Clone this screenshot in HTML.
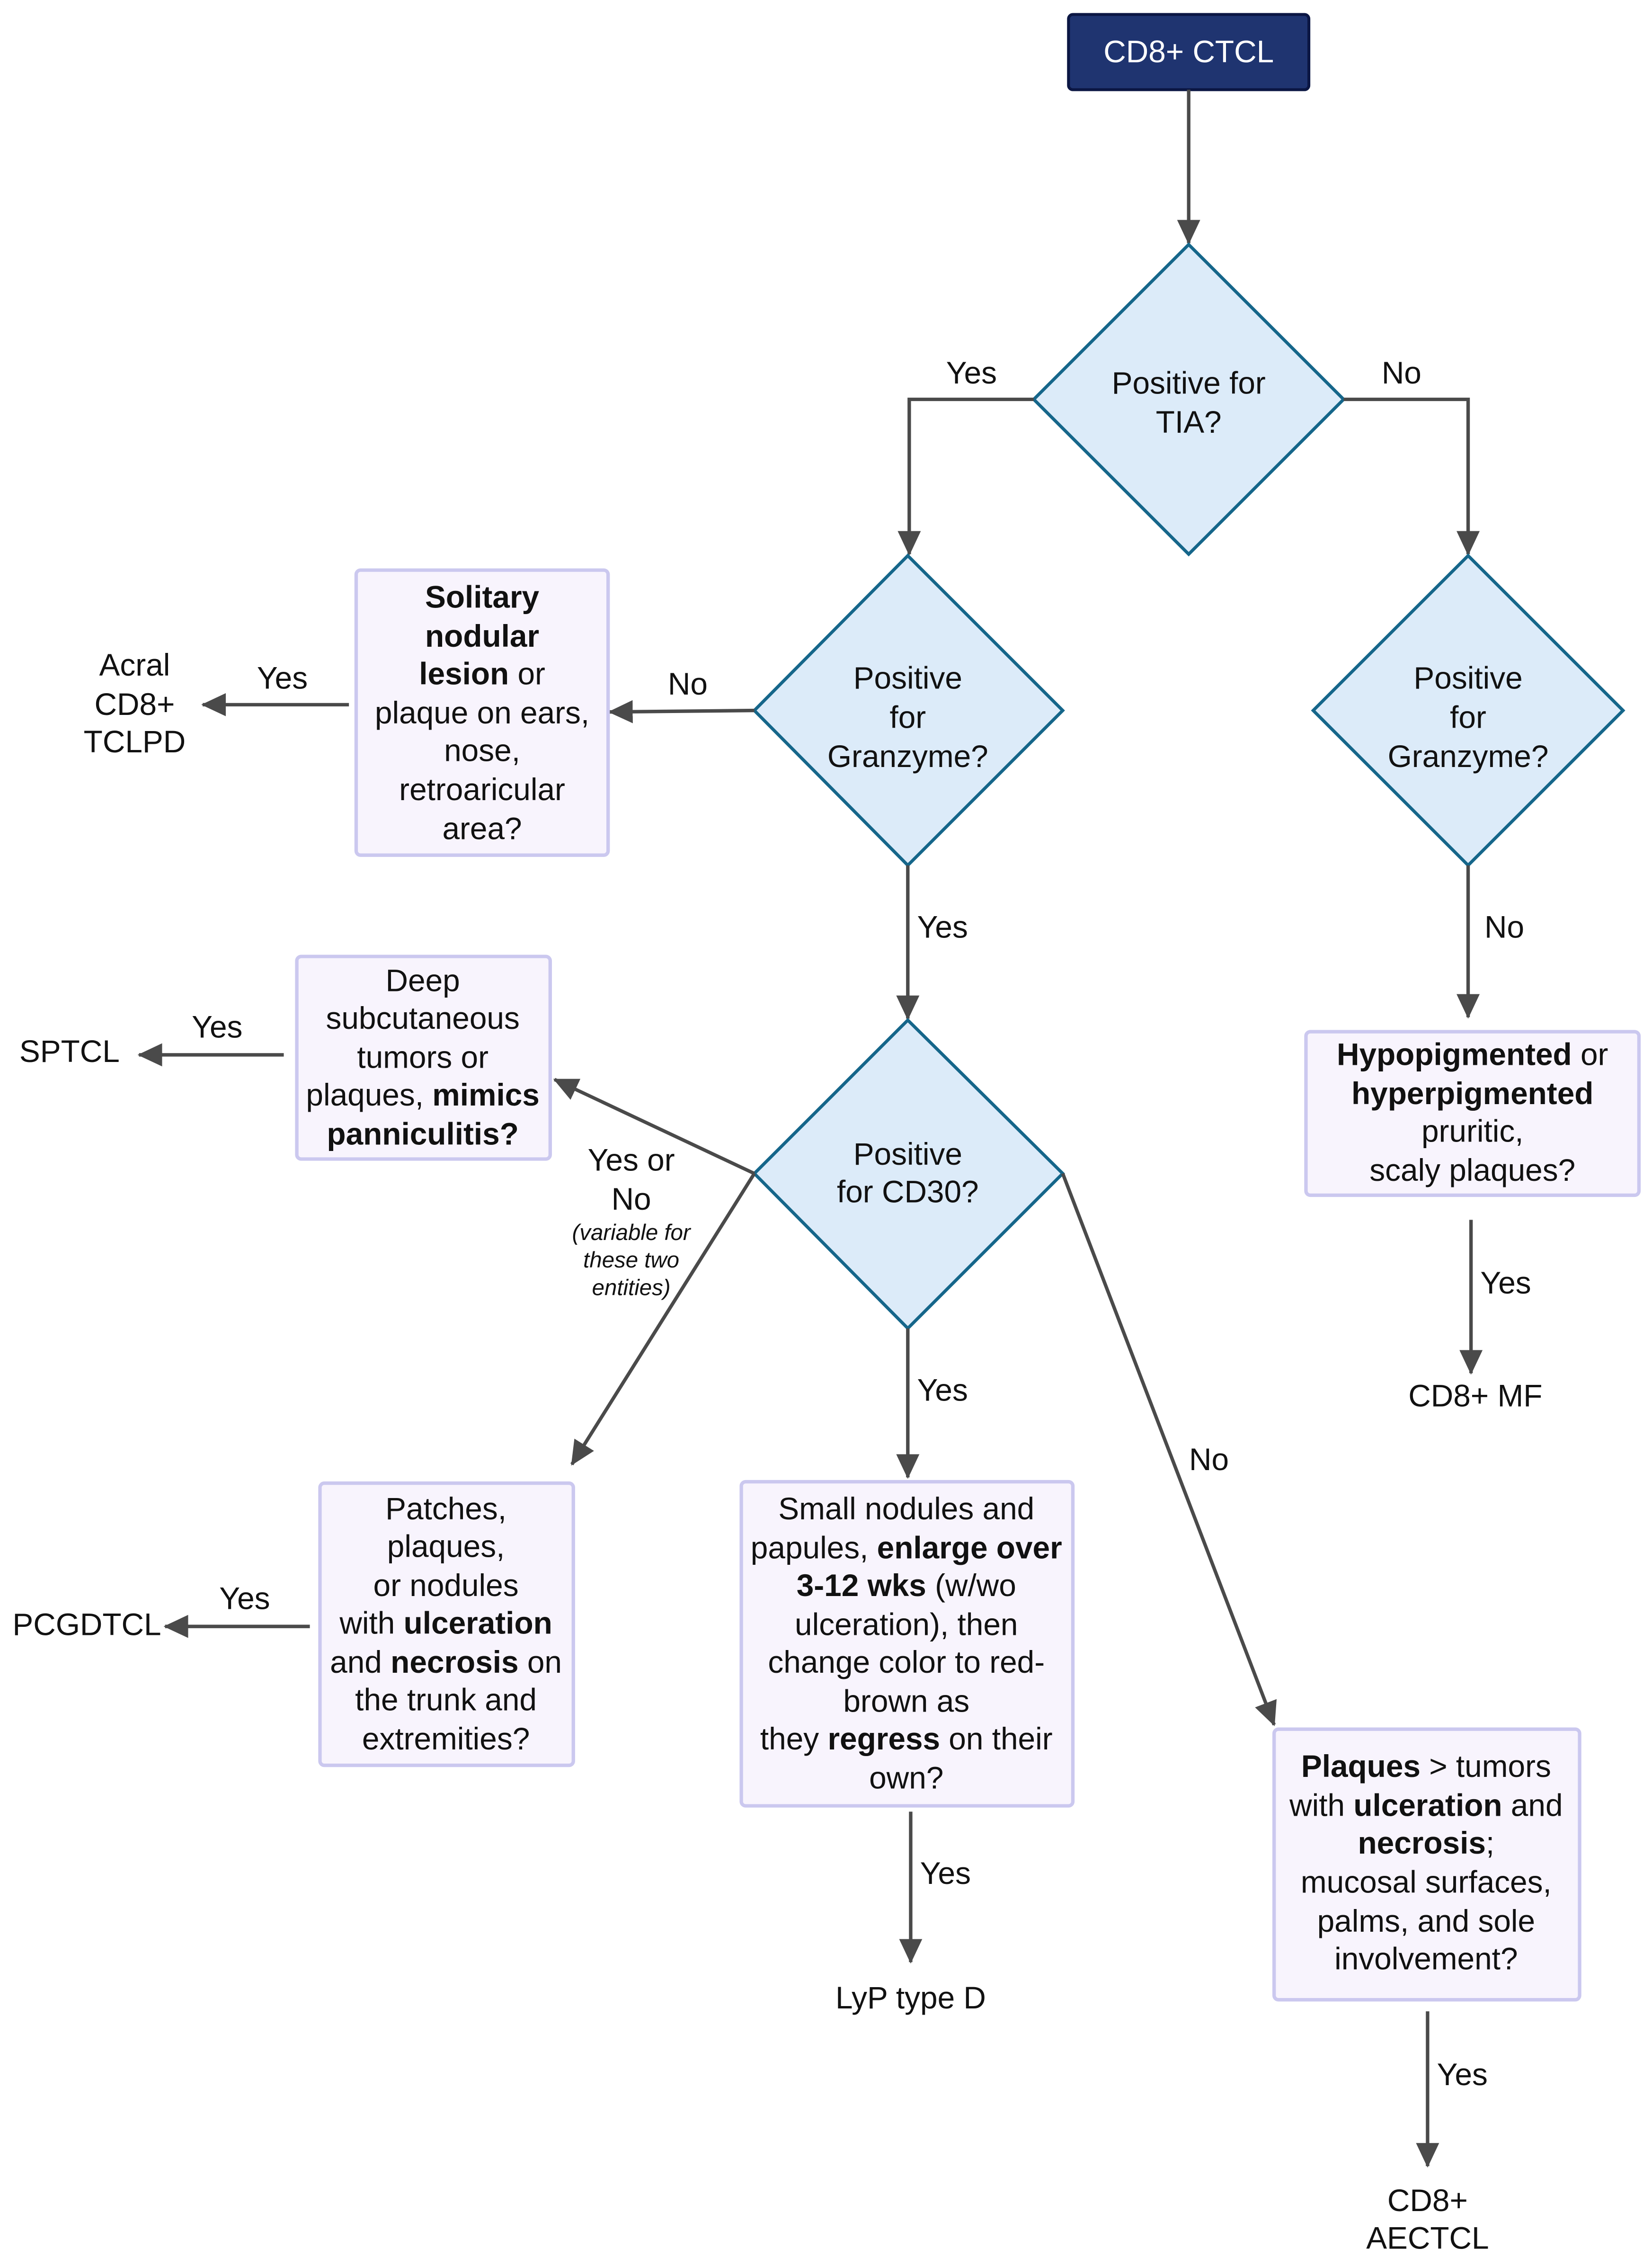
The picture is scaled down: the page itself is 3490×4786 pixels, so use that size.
<!DOCTYPE html>
<html><head><meta charset="utf-8"><style>
html,body{margin:0;padding:0;background:#fff}
svg{display:block}
text{font-family:"Liberation Sans",Arial,sans-serif;font-size:21.5px;fill:#111;text-anchor:middle}
.b{font-weight:bold}
.i{font-style:italic;font-size:15.5px}
.ln{stroke:#4a4a4a;stroke-width:2.4;fill:none}
.dm{fill:#dcebf9;stroke:#15668a;stroke-width:2.2}
.bx{fill:#f8f4fd;stroke:#cbc8ef;stroke-width:2.4}
</style></head><body>
<svg width="3490" height="4786" viewBox="0 0 1141 1566" preserveAspectRatio="none" xmlns="http://www.w3.org/2000/svg">
<defs><marker id="a" markerUnits="userSpaceOnUse" markerWidth="18" markerHeight="18" viewBox="0 0 18 18" refX="16" refY="9" orient="auto"><path d="M0,1 L17,9 L0,17 Z" fill="#4a4a4a"/></marker></defs>

<rect x="738" y="10" width="166" height="52" rx="3" fill="#1f3470" stroke="#0b1643" stroke-width="2"/>
<text x="821" y="43" style="fill:#fff">CD8+ CTCL</text>

<line class="ln" x1="821" y1="62" x2="821" y2="168" marker-end="url(#a)"/>
<polygon class="dm" points="821,169 928,276 821,383 714,276"/>
<text x="821" y="272">Positive for</text><text x="821" y="299">TIA?</text>

<polyline class="ln" points="714,276 628,276 628,383" marker-end="url(#a)"/>
<text x="671" y="265">Yes</text>
<polyline class="ln" points="928,276 1014,276 1014,383" marker-end="url(#a)"/>
<text x="968" y="265">No</text>

<polygon class="dm" points="627,384 734,491 627,598 521,491"/>
<text x="627" y="476">Positive</text><text x="627" y="503">for</text><text x="627" y="530">Granzyme?</text>
<polygon class="dm" points="1014,384 1121,491 1014,598 907,491"/>
<text x="1014" y="476">Positive</text><text x="1014" y="503">for</text><text x="1014" y="530">Granzyme?</text>

<line class="ln" x1="521" y1="491" x2="421" y2="492" marker-end="url(#a)"/>
<text x="475" y="480">No</text>
<rect class="bx" x="246" y="394" width="174" height="197" rx="3"/>
<text x="333" y="420" class="b">Solitary</text>
<text x="333" y="447" class="b">nodular</text>
<text x="333" y="473"><tspan class="b">lesion</tspan> or</text>
<text x="333" y="500">plaque on ears,</text>
<text x="333" y="526">nose,</text>
<text x="333" y="553">retroaricular</text>
<text x="333" y="580">area?</text>
<line class="ln" x1="241" y1="487" x2="140" y2="487" marker-end="url(#a)"/>
<text x="195" y="476">Yes</text>
<text x="93" y="467">Acral</text><text x="93" y="494">CD8+</text><text x="93" y="520">TCLPD</text>

<line class="ln" x1="627" y1="598" x2="627" y2="704" marker-end="url(#a)"/>
<text x="651" y="648">Yes</text>
<polygon class="dm" points="627,705 734,811 627,918 521,811"/>
<text x="627" y="805">Positive</text><text x="627" y="831">for CD30?</text>

<line class="ln" x1="1014" y1="598" x2="1014" y2="703" marker-end="url(#a)"/>
<text x="1039" y="648">No</text>
<rect class="bx" x="902" y="713" width="230" height="113" rx="3"/>
<text x="1017" y="736"><tspan class="b">Hypopigmented</tspan> or</text>
<text x="1017" y="763" class="b">hyperpigmented</text>
<text x="1017" y="789">pruritic,</text>
<text x="1017" y="816">scaly plaques?</text>
<line class="ln" x1="1016" y1="843" x2="1016" y2="949" marker-end="url(#a)"/>
<text x="1040" y="894">Yes</text>
<text x="1019" y="972">CD8+ MF</text>

<line class="ln" x1="521" y1="811" x2="383" y2="746" marker-end="url(#a)"/>
<rect class="bx" x="205" y="661" width="175" height="140" rx="3"/>
<text x="292" y="685">Deep</text>
<text x="292" y="711">subcutaneous</text>
<text x="292" y="738">tumors or</text>
<text x="292" y="764">plaques, <tspan class="b">mimics</tspan></text>
<text x="292" y="791" class="b">panniculitis?</text>
<line class="ln" x1="196" y1="729" x2="96" y2="729" marker-end="url(#a)"/>
<text x="150" y="717">Yes</text>
<text x="48" y="734">SPTCL</text>

<text x="436" y="809">Yes or</text><text x="436" y="836">No</text>
<text x="436" y="857" class="i">(variable for</text>
<text x="436" y="876" class="i">these two</text>
<text x="436" y="895" class="i">entities)</text>

<line class="ln" x1="521" y1="811" x2="395" y2="1012" marker-end="url(#a)"/>
<rect class="bx" x="221" y="1025" width="175" height="195" rx="3"/>
<text x="308" y="1050">Patches,</text>
<text x="308" y="1076">plaques,</text>
<text x="308" y="1103">or nodules</text>
<text x="308" y="1129">with <tspan class="b">ulceration</tspan></text>
<text x="308" y="1156">and <tspan class="b">necrosis</tspan> on</text>
<text x="308" y="1182">the trunk and</text>
<text x="308" y="1209">extremities?</text>
<line class="ln" x1="214" y1="1124" x2="114" y2="1124" marker-end="url(#a)"/>
<text x="169" y="1112">Yes</text>
<text x="60" y="1130">PCGDTCL</text>

<line class="ln" x1="627" y1="918" x2="627" y2="1021" marker-end="url(#a)"/>
<text x="651" y="968">Yes</text>
<rect class="bx" x="512" y="1024" width="229" height="224" rx="3"/>
<text x="626" y="1050">Small nodules and</text>
<text x="626" y="1077">papules, <tspan class="b">enlarge over</tspan></text>
<text x="626" y="1103"><tspan class="b">3-12 wks</tspan> (w/wo</text>
<text x="626" y="1130">ulceration), then</text>
<text x="626" y="1156">change color to red-</text>
<text x="626" y="1183">brown as</text>
<text x="626" y="1209">they <tspan class="b">regress</tspan> on their</text>
<text x="626" y="1236">own?</text>
<line class="ln" x1="629" y1="1252" x2="629" y2="1356" marker-end="url(#a)"/>
<text x="653" y="1302">Yes</text>
<text x="629" y="1388">LyP type D</text>

<line class="ln" x1="734" y1="811" x2="880" y2="1192" marker-end="url(#a)"/>
<text x="835" y="1016">No</text>
<rect class="bx" x="880" y="1195" width="211" height="187" rx="3"/>
<text x="985" y="1228"><tspan class="b">Plaques</tspan> &gt; tumors</text>
<text x="985" y="1255">with <tspan class="b">ulceration</tspan> and</text>
<text x="985" y="1281"><tspan class="b">necrosis</tspan>;</text>
<text x="985" y="1308">mucosal surfaces,</text>
<text x="985" y="1335">palms, and sole</text>
<text x="985" y="1361">involvement?</text>
<line class="ln" x1="986" y1="1390" x2="986" y2="1497" marker-end="url(#a)"/>
<text x="1010" y="1441">Yes</text>
<text x="986" y="1528">CD8+</text><text x="986" y="1554">AECTCL</text>
</svg>
</body></html>
